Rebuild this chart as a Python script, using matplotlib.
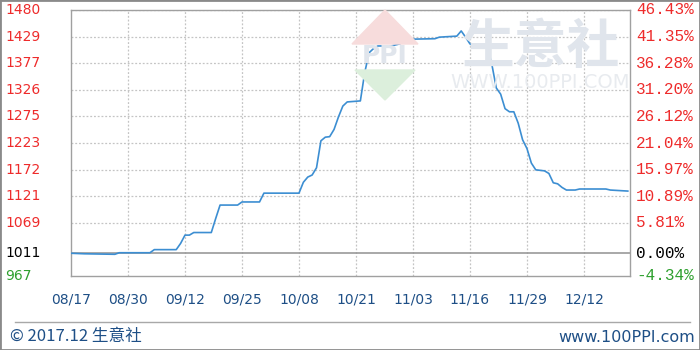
import matplotlib
matplotlib.use("Agg")
import matplotlib.pyplot as plt
from matplotlib.patches import Polygon, Rectangle
from matplotlib.transforms import blended_transform_factory
import pandas as pd

# price series (2017)
dates = [
    "08-17", "08-20", "08-27", "08-28", "09-04", "09-05", "09-10", "09-11",
    "09-12", "09-13", "09-14", "09-18", "09-19", "09-20", "09-24", "09-25",
    "09-29", "09-30", "10-08", "10-09", "10-10", "10-11", "10-12", "10-13",
    "10-14", "10-15", "10-16", "10-17", "10-18", "10-19", "10-22", "10-23",
    "10-24", "10-25", "10-26", "10-29", "10-30", "10-31", "11-01", "11-02",
    "11-08", "11-09", "11-13", "11-14", "11-15", "11-16", "11-17", "11-20",
    "11-21", "11-22", "11-23", "11-24", "11-25", "11-26", "11-27", "11-28",
    "11-29", "11-30", "12-01", "12-03", "12-04", "12-05", "12-06", "12-07",
    "12-08", "12-10", "12-11", "12-17", "12-18", "12-22",
]
prices = [
    1011, 1010, 1009, 1012, 1012, 1018, 1018, 1030,
    1046, 1046, 1051, 1051, 1078, 1104, 1104, 1110,
    1110, 1127, 1127, 1148, 1158, 1162, 1176, 1228,
    1235, 1236, 1250, 1274, 1295, 1303, 1305, 1360,
    1398, 1406, 1411, 1411, 1413, 1415, 1420, 1424,
    1425, 1428, 1430, 1440, 1428, 1415, 1411, 1409,
    1375, 1330, 1318, 1290, 1284, 1284, 1262, 1230,
    1213, 1185, 1172, 1170, 1165, 1147, 1145, 1138,
    1133, 1133, 1135, 1135, 1133, 1131,
]

base_price = 1011
left_labels = ["967", "1011", "1069", "1121", "1172", "1223",
               "1275", "1326", "1377", "1429", "1480"]
pct_values = [-4.34, 0.00, 5.81, 10.89, 15.97, 21.04,
              26.12, 31.20, 36.28, 41.35, 46.43]
x_tick_labels = ["08/17", "08/30", "09/12", "09/25", "10/08",
                 "10/21", "11/03", "11/16", "11/29", "12/12"]

RED = "#EE2B2B"
GREEN = "#2EA02E"
BLUE_TXT = "#1E4F86"
LINE = "#3C8ED2"

x = pd.to_datetime(["2017-" + d for d in dates])
tick_pos = [base_price * (1 + p / 100) for p in pct_values]
x_ticks = pd.to_datetime(["2017-" + s.replace("/", "-") for s in x_tick_labels])

fig = plt.figure(figsize=(7, 3.5), dpi=100)
ax = fig.add_axes([71 / 700, 1 - 276 / 350, 559 / 700, 266 / 350])

# watermark
fig.text(0.772, 0.865, "生意社", fontsize=38, color="#E0E5EC",
         family=["Noto Sans CJK SC", "DejaVu Sans"], ha="center", va="center",
         fontweight="bold", zorder=0)
fig.text(0.772, 0.765, "WWW.100PPI.COM", fontsize=14, color="#E8EBEF",
         ha="center", va="center", zorder=0)
roof = Polygon([(352 / 700, 1 - 44 / 350), (385 / 700, 1 - 10 / 350), (418 / 700, 1 - 44 / 350)],
               closed=True, transform=fig.transFigure, color="#F7DCDC", zorder=0)
funnel = Polygon([(355 / 700, 1 - 70 / 350), (415 / 700, 1 - 70 / 350), (385 / 700, 1 - 100 / 350)],
                 closed=True, transform=fig.transFigure, color="#DCEFDC", zorder=0)
fig.patches.extend([roof, funnel])
fig.text(385 / 700, 1 - 56 / 350, "PPI", fontsize=18, color="#E0E5EC",
         ha="center", va="center", fontweight="bold", zorder=0)

ax.set_facecolor("none")
ax.plot(x, prices, color=LINE, lw=1.2, zorder=3)

ax.set_xlim(pd.Timestamp("2017-08-17"), pd.Timestamp("2017-12-22 12:00"))
ax.set_ylim(tick_pos[0], tick_pos[-1])

for pos in tick_pos[2:]:
    ax.axhline(pos, color="#C4C4C4", lw=0.9, ls=(0, (1.5, 1.5)), zorder=1)
ax.axhline(base_price, color="#999999", lw=1.2, zorder=2)
for xt in x_ticks[1:]:
    ax.axvline(xt, color="#C4C4C4", lw=0.9, ls=(0, (1.5, 1.5)), zorder=1)

ax.set_yticks([])
ax.set_xticks(x_ticks)
ax.set_xticklabels(x_tick_labels, fontsize=10, color=BLUE_TXT)
ax.tick_params(axis="x", length=0, pad=12)
for s in ax.spines.values():
    s.set_color("#A0A0A0")
    s.set_linewidth(1.0)

left_tr = blended_transform_factory(fig.transFigure, ax.transData)
for i, (pos, lab, pct) in enumerate(zip(tick_pos, left_labels, pct_values)):
    if i == 0:
        col = GREEN
    elif i == 1:
        col = "black"
    else:
        col = RED
    ax.text(5 / 700, pos, lab, transform=left_tr, fontsize=10, color=col,
            ha="left", va="center", clip_on=False)
    ax.text(636 / 700, pos, f"{pct:.2f}%", transform=left_tr, fontsize=11.5,
            color=col, ha="left", va="center", family="Liberation Mono",
            clip_on=False)

# footer
fig.add_artist(plt.Line2D([15 / 700, 690 / 700], [1 - 322 / 350, 1 - 322 / 350],
                          color="#A8A8A8", lw=1.0))
fig.text(10 / 700, 1 - 337 / 350, "© 2017.12 生意社", fontsize=12, color=BLUE_TXT,
         family=["Noto Sans CJK SC", "DejaVu Sans"], ha="left", va="center")
fig.text(695 / 700, 1 - 337 / 350, "www.100PPI.com", fontsize=11.5, color=BLUE_TXT,
         ha="right", va="center")

fig.patches.append(Rectangle((0, 0), 1, 1, transform=fig.transFigure, fill=False,
                             edgecolor="#8A8A8A", lw=2))

fig.savefig("out.png", dpi=100)
